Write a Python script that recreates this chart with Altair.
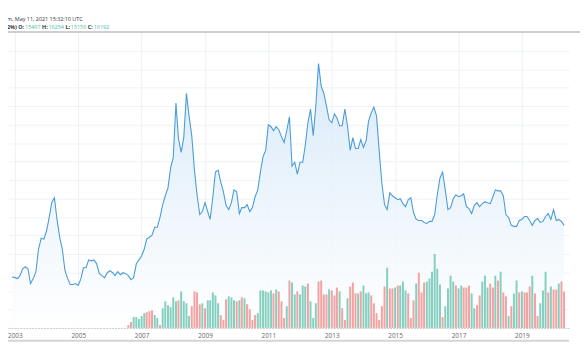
import altair as alt
import pandas as pd

# ---------------- data ----------------
# monthly closing level, Dec 2002 .. May 2020 (arbitrary units)
price = [52, 51, 50, 53, 60, 62, 60, 45, 50, 57, 80, 91, 90, 98, 112, 127, 132, 110, 92, 80,
         58, 50, 44, 44, 45, 43, 50, 61, 61, 69, 68, 69, 65, 55, 53, 51, 56, 58, 56, 53,
         57, 54, 56, 55, 53, 49, 51, 65, 69, 73, 80, 90, 92, 94, 102, 102, 112, 125, 134, 142,
         162, 173, 228, 192, 178, 193, 238, 215, 195, 160, 135, 115, 118, 127, 118, 110, 133, 158, 160, 148,
         138, 124, 120, 127, 140, 138, 116, 122, 122, 125, 118, 122, 133, 140, 158, 174, 180, 206, 204, 200,
         204, 201, 194, 188, 200, 214, 164, 168, 156, 168, 168, 185, 208, 222, 195, 225, 268, 245, 238, 225,
         211, 208, 217, 213, 205, 205, 222, 205, 180, 193, 182, 182, 191, 183, 190, 210, 218, 224, 215, 180,
         147, 125, 120, 137, 134, 132, 130, 131, 126, 123, 130, 132, 117, 110, 109, 109, 107, 106, 108, 108,
         115, 135, 152, 158, 140, 120, 122, 131, 135, 133, 134, 136, 123, 121, 116, 124, 127, 123, 126, 128,
         127, 126, 133, 140, 139, 139, 134, 115, 112, 104, 103, 103, 109, 110, 113, 113, 109, 104, 109, 111,
         107, 108, 113, 116, 110, 120, 109, 110, 108, 104]
price_start = "2002-12-01"

# monthly volume, Aug 2006 .. May 2020
volume = [3, 6, 11, 11, 9, 12, 15, 16, 17, 18, 13, 10, 3, 20, 27, 23, 21, 31, 27, 28,
          37, 27, 25, 12, 22, 37, 36, 24, 25, 20, 28, 28, 36, 33, 25, 13, 8, 29, 32, 31,
          28, 27, 28, 31, 30, 24, 19, 8, 13, 15, 38, 38, 37, 36, 38, 35, 39, 37, 27, 10,
          22, 48, 46, 34, 37, 34, 43, 42, 45, 27, 10, 25, 47, 48, 34, 34, 39, 38, 33, 41,
          37, 20, 8, 30, 42, 46, 35, 35, 37, 43, 35, 36, 33, 25, 15, 8, 22, 42, 61, 40,
          40, 41, 43, 43, 47, 38, 35, 10, 28, 45, 56, 36, 46, 47, 50, 57, 75, 60, 44, 11,
          22, 40, 53, 47, 43, 40, 43, 41, 41, 43, 35, 20, 23, 33, 47, 53, 41, 45, 41, 53,
          48, 57, 36, 32, 12, 22, 35, 48, 36, 37, 36, 36, 42, 53, 35, 12, 25, 38, 57, 36,
          42, 39, 39, 45, 47, 37]
direction = ["d", "d", "u", "u", "u", "u", "u", "d", "d", "d", "u", "u", "d", "u", "u", "u", "u", "u", "u", "d",
             "u", "u", "u", "u", "d", "d", "d", "d", "u", "d", "u", "u", "u", "u", "u", "d", "d", "d", "u", "u",
             "u", "d", "u", "d", "u", "d", "d", "d", "d", "u", "u", "u", "u", "u", "u", "d", "u", "d", "d", "d",
             "u", "d", "u", "u", "d", "u", "u", "u", "d", "u", "u", "u", "d", "d", "d", "d", "u", "d", "d", "d",
             "u", "d", "d", "u", "d", "d", "d", "u", "d", "u", "u", "u", "d", "d", "d", "d", "d", "d", "u", "d",
             "d", "u", "d", "u", "u", "u", "d", "d", "d", "u", "d", "d", "d", "u", "u", "u", "u", "u", "u", "d",
             "u", "u", "u", "u", "d", "u", "u", "d", "d", "d", "u", "u", "d", "d", "u", "u", "u", "d", "d", "u",
             "d", "u", "d", "d", "u", "d", "u", "u", "d", "u", "d", "d", "d", "u", "d", "d", "u", "u", "u", "d",
             "u", "d", "d", "u", "d", "d"]
volume_start = "2006-08-01"

header_line1 = "m, May 11, 2021 15:32:10 UTC"
header_labels = ["2%) O:", "H:", "L:", "C:"]
header_values = ["15497", "16254", "15156", "16192"]

tick_years = list(range(2003, 2021, 2))

# ---------------- tables ----------------
price_df = pd.DataFrame({
    "date": pd.date_range(price_start, periods=len(price), freq="MS"),
    "price": price,
})
vol_df = pd.DataFrame({
    "date": pd.date_range(volume_start, periods=len(volume), freq="MS"),
    "volume": volume,
    "dir": ["up" if d == "u" else "down" for d in direction],
})

# ---------------- layout ----------------
W, H = 569, 300
FONT = "Open Sans"
TEAL = "#84cfbf"
RED = "#f3a1a1"
LINE = "#4a9cd8"

xscale = alt.Scale(domain=[alt.DateTime(year=2002, month=12, date=10),
                           alt.DateTime(year=2020, month=5, date=3)])
yscale = alt.Scale(domain=[0, 300], nice=False, zero=True)

xaxis = alt.Axis(
    values=[alt.DateTime(year=y, month=1, date=1) for y in tick_years],
    format="%Y", title=None, ticks=False, grid=True, gridColor="#edf1f5",
    gridWidth=1, domain=True, domainColor="#c8c8c8", domainDash=[2, 1],
    labelFontSize=6.5, labelColor="#666666", labelPadding=5,
    labelOverlap=False, labelFlush=False, labelFont=FONT,
)
yaxis = alt.Axis(
    values=[18.75 * k for k in range(1, 17)], labels=False, ticks=False,
    domain=False, title=None, grid=True, gridColor="#eef2f6", gridWidth=1,
)

gradient = alt.Gradient(
    gradient="linear",
    stops=[alt.GradientStop(color="#ffffff", offset=0),
           alt.GradientStop(color="#d3e7f8", offset=1)],
    x1=1, x2=1, y1=1, y2=0,
)

base = alt.Chart(price_df)

area = base.mark_area(color=gradient, opacity=0.85, clip=True).encode(
    x=alt.X("date:T", scale=xscale, axis=xaxis),
    y=alt.Y("price:Q", scale=yscale, axis=yaxis),
)

bars = alt.Chart(vol_df).mark_bar(width=2, clip=True).encode(
    x=alt.X("date:T", scale=xscale, axis=xaxis),
    y=alt.Y("volume:Q", scale=yscale, axis=yaxis),
    color=alt.Color("dir:N", scale=alt.Scale(domain=["up", "down"], range=[TEAL, RED]),
                    legend=None),
)

line = base.mark_line(color=LINE, strokeWidth=1.1, clip=True).encode(
    x=alt.X("date:T", scale=xscale, axis=xaxis),
    y=alt.Y("price:Q", scale=yscale, axis=yaxis),
)

one = pd.DataFrame({"a": [0]})
top_rule = alt.Chart(one).mark_rule(color="#cfcfcf", strokeWidth=2).encode(
    x=alt.value(-1), x2=alt.value(W + 11), y=alt.value(0))
bottom_rule = alt.Chart(one).mark_rule(color="#d4d4d4", strokeWidth=2).encode(
    x=alt.value(-1), x2=alt.value(W), y=alt.value(313))

title1 = alt.Chart(one).mark_text(
    align="left", baseline="middle", fontSize=5.5, color="#333333", font=FONT
).encode(x=alt.value(-1), y=alt.value(-13), text=alt.value(header_line1))

# second header row: label / value pairs
seg_x_labels = [-1, 34.5, 58.2, 80.9]
seg_x_values = [17.3, 41, 63.7, 86.9]
hdr_layers = []
for lab, val, xl, xv in zip(header_labels, header_values, seg_x_labels, seg_x_values):
    hdr_layers.append(alt.Chart(one).mark_text(
        align="left", baseline="middle", fontSize=5.5, color="#333333", font=FONT,
        fontWeight="bold").encode(x=alt.value(xl), y=alt.value(-5), text=alt.value(lab)))
    hdr_layers.append(alt.Chart(one).mark_text(
        align="left", baseline="middle", fontSize=5.5, color="#4fb9a3", font=FONT
    ).encode(x=alt.value(xv), y=alt.value(-5), text=alt.value(val)))

chart = alt.layer(area, bars, line, top_rule, bottom_rule, title1, *hdr_layers).properties(
    width=W, height=H,
    autosize=alt.AutoSizeParams(type="none"),
    padding={"left": 0, "top": 22, "right": 11, "bottom": 21},
    background="white",
).configure_view(stroke=None)

chart.save("out.html", embed_options={"renderer": "svg", "actions": False})
